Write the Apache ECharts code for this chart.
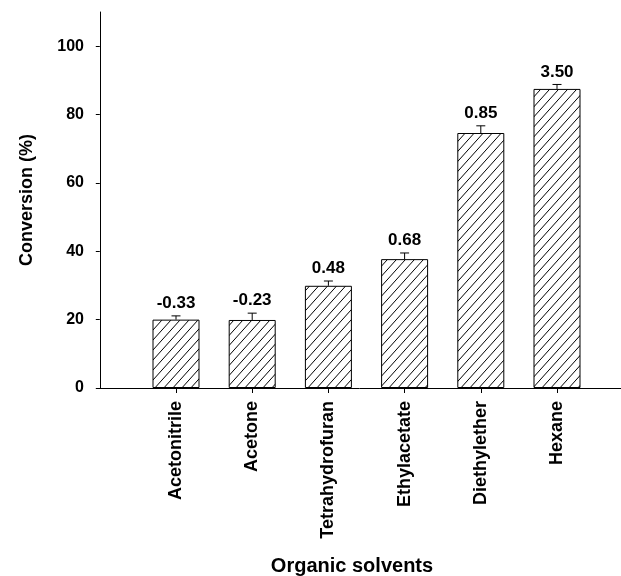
<!DOCTYPE html>
<html>
<head>
<meta charset="utf-8">
<script src="https://cdn.jsdelivr.net/npm/echarts@6/dist/echarts.min.js"></script>
<style>
html,body{margin:0;padding:0;background:#fff;}
#chart{width:621px;height:576px;}
</style>
</head>
<body>
<div id="chart"></div>
<script>
const categories = ['Acetonitrile', 'Acetone', 'Tetrahydrofuran', 'Ethylacetate', 'Diethylether', 'Hexane'];
const conversion = [20.0, 19.9, 29.9, 37.7, 74.6, 87.5];
const errors = [1.1, 2.0, 1.4, 1.8, 2.1, 1.3];
const logP = ['-0.33', '-0.23', '0.48', '0.68', '0.85', '3.50'];
const yTicks = [0, 20, 40, 60, 80, 100];

const FONT = '"Liberation Sans", Arial, sans-serif';

// hatch pattern
const pc = document.createElement('canvas');
pc.width = 9; pc.height = 10;
const g = pc.getContext('2d');
g.fillStyle = '#fff';
g.fillRect(0, 0, 9, 10);
g.strokeStyle = '#000';
g.lineWidth = 1;
g.beginPath();
g.moveTo(0, 10); g.lineTo(9, 0);
g.moveTo(-9, 10); g.lineTo(0, 0);
g.moveTo(9, 10); g.lineTo(18, 0);
g.stroke();

const xs = categories.map((c, i) => i + 1);
const barData = xs.map((x, i) => [x, conversion[i]]);
const errData = xs.map((x, i) => [x, conversion[i], errors[i], i]);

const chart = echarts.init(document.getElementById('chart'));
chart.setOption({
  animation: false,
  backgroundColor: '#fff',
  grid: { left: 98, right: 0, top: 12, bottom: 188, containLabel: false, outerBoundsMode: 'none' },
  xAxis: {
    type: 'value',
    min: 1 - 78 / 76.2,
    max: 6 + 64 / 76.2,
    splitLine: { show: false },
    axisLine: { show: true, onZero: false, lineStyle: { color: '#000', width: 1 } },
    axisTick: { show: true, length: 5, inside: false, customValues: xs, lineStyle: { color: '#000' } },
    axisLabel: {
      show: true, customValues: xs, rotate: 90, margin: 13,
      formatter: v => categories[Math.round(v) - 1] || '',
      color: '#000', fontFamily: FONT, fontWeight: 'bold', fontSize: 18
    },
    name: 'Organic solvents',
    nameLocation: 'middle',
    nameGap: 168,
    nameTextStyle: { color: '#000', fontFamily: FONT, fontWeight: 'bold', fontSize: 20, padding: [0, 15, 0, 0] }
  },
  yAxis: {
    type: 'value',
    min: 0, max: 110,
    splitLine: { show: false },
    axisLine: { show: true, lineStyle: { color: '#000', width: 1 } },
    axisTick: { show: true, length: 4, customValues: yTicks, lineStyle: { color: '#000' } },
    axisLabel: {
      customValues: yTicks, margin: 14,
      color: '#000', fontFamily: FONT, fontWeight: 'bold', fontSize: 16
    },
    name: 'Conversion (%)',
    nameLocation: 'middle',
    nameGap: 62,
    nameRotate: 90,
    nameTextStyle: { color: '#000', fontFamily: FONT, fontWeight: 'bold', fontSize: 18 }
  },
  series: [
    {
      type: 'bar',
      data: barData,
      barWidth: 47,
      itemStyle: {
        color: { image: pc, repeat: 'repeat' },
        borderColor: '#000',
        borderWidth: 1
      }
    },
    {
      type: 'custom',
      data: errData,
      z: 5,
      renderItem: function (params, api) {
        const x = api.value(0), v = api.value(1), e = api.value(2), idx = api.value(3);
        const p0 = api.coord([x, v]);
        const p1 = api.coord([x, v + e]);
        const cap = 4.5;
        return {
          type: 'group',
          children: [
            { type: 'line', shape: { x1: p0[0], y1: p0[1], x2: p1[0], y2: p1[1] }, style: { stroke: '#000', lineWidth: 1 } },
            { type: 'line', shape: { x1: p1[0] - cap, y1: p1[1], x2: p1[0] + cap, y2: p1[1] }, style: { stroke: '#000', lineWidth: 1 } },
            { type: 'text', style: { text: logP[idx], x: p1[0], y: p1[1] - 4, align: 'center', verticalAlign: 'bottom', fill: '#000', font: 'bold 17px ' + FONT } }
          ]
        };
      }
    }
  ]
});
</script>
</body>
</html>
